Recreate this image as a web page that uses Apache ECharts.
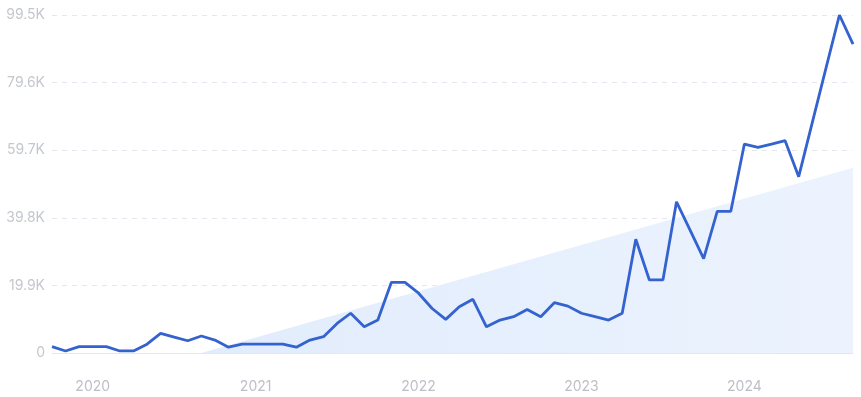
<!DOCTYPE html>
<html>
<head>
<meta charset="utf-8">
<script src="https://cdn.jsdelivr.net/npm/echarts@6/dist/echarts.min.js"></script>
<style>
html,body{margin:0;padding:0;background:#fff;}
#c{width:861px;height:397px;}
</style>
</head>
<body>
<div id="c"></div>
<script>
// Monthly categories Oct 2019 .. Sep 2024
const months = [];
for (let y = 2019; y <= 2024; y++) {
  for (let m = 1; m <= 12; m++) {
    if ((y === 2019 && m < 10) || (y === 2024 && m > 9)) continue;
    months.push(y + '-' + String(m).padStart(2, '0'));
  }
}
// Search volume (thousands)
const volumeK = [
  1.9, 0.6, 1.9, 1.9, 1.9, 0.6, 0.6, 2.6, 5.8, 4.7,
  3.6, 5.0, 3.8, 1.7, 2.6, 2.6, 2.6, 2.6, 1.7, 3.8,
  4.8, 8.7, 11.7, 7.7, 9.7, 20.8, 20.8, 17.6, 13.1, 9.9,
  13.6, 15.8, 7.7, 9.7, 10.7, 12.8, 10.7, 14.8, 13.8, 11.7,
  10.7, 9.7, 11.7, 33.5, 21.5, 21.5, 44.5, 36.2, 27.8, 41.7,
  41.7, 61.5, 60.5, 61.5, 62.5, 51.9, 67.8, 83.7, 99.5, 90.9
];
// Trend area endpoints (index -> thousands)
const trendStartIndex = 11, trendStartK = 0;
const trendEndIndex = 59, trendEndK = 54.5;
const yTicks = [0, 19900, 39800, 59700, 79600, 99500];

const volume = volumeK.map(v => v * 1000);
const trend = months.map((_, i) => i === trendStartIndex ? trendStartK * 1000 : (i === trendEndIndex ? trendEndK * 1000 : null));

const chart = echarts.init(document.getElementById('c'), null, {renderer: 'canvas'});
chart.setOption({
  animation: false,
  grid: {left: 52, right: 8, top: 15, bottom: 44},
  xAxis: {
    type: 'category',
    data: months,
    boundaryGap: false,
    axisLine: {show: true, lineStyle: {color: '#e2e8f1', width: 1}},
    axisTick: {show: false},
    axisLabel: {
      interval: (idx, val) => val.endsWith('-01'),
      formatter: v => v.slice(0, 4),
      color: '#bcbfc5',
      fontSize: 14,
      fontFamily: 'Inter, "Noto Sans", sans-serif',
      margin: 27
    },
    splitLine: {show: false}
  },
  yAxis: {
    type: 'value',
    min: yTicks[0],
    max: yTicks[yTicks.length - 1],
    interval: yTicks[1] - yTicks[0],
    axisLine: {show: false},
    axisTick: {show: false},
    axisLabel: {
      formatter: v => v === 0 ? '0' : (v / 1000).toFixed(1) + 'K',
      color: '#c4c7cd',
      fontSize: 14,
      fontFamily: 'Inter, "Noto Sans", sans-serif',
      margin: 7
    },
    splitLine: {show: true, lineStyle: {color: '#e3e8ee', type: [5, 5], width: 1}}
  },
  series: [
    {
      type: 'line',
      data: trend,
      connectNulls: true,
      symbol: 'none',
      lineStyle: {width: 0, opacity: 0},
      areaStyle: {
        color: new echarts.graphic.LinearGradient(0, 0, 1, 0, [
          {offset: 0, color: '#e1ecfc'},
          {offset: 1, color: '#ecf3fe'}
        ]),
        opacity: 1
      },
      z: 1
    },
    {
      type: 'line',
      data: volume,
      symbol: 'none',
      lineStyle: {color: '#3462cf', width: 2.8},
      z: 3
    }
  ]
});
</script>
</body>
</html>
